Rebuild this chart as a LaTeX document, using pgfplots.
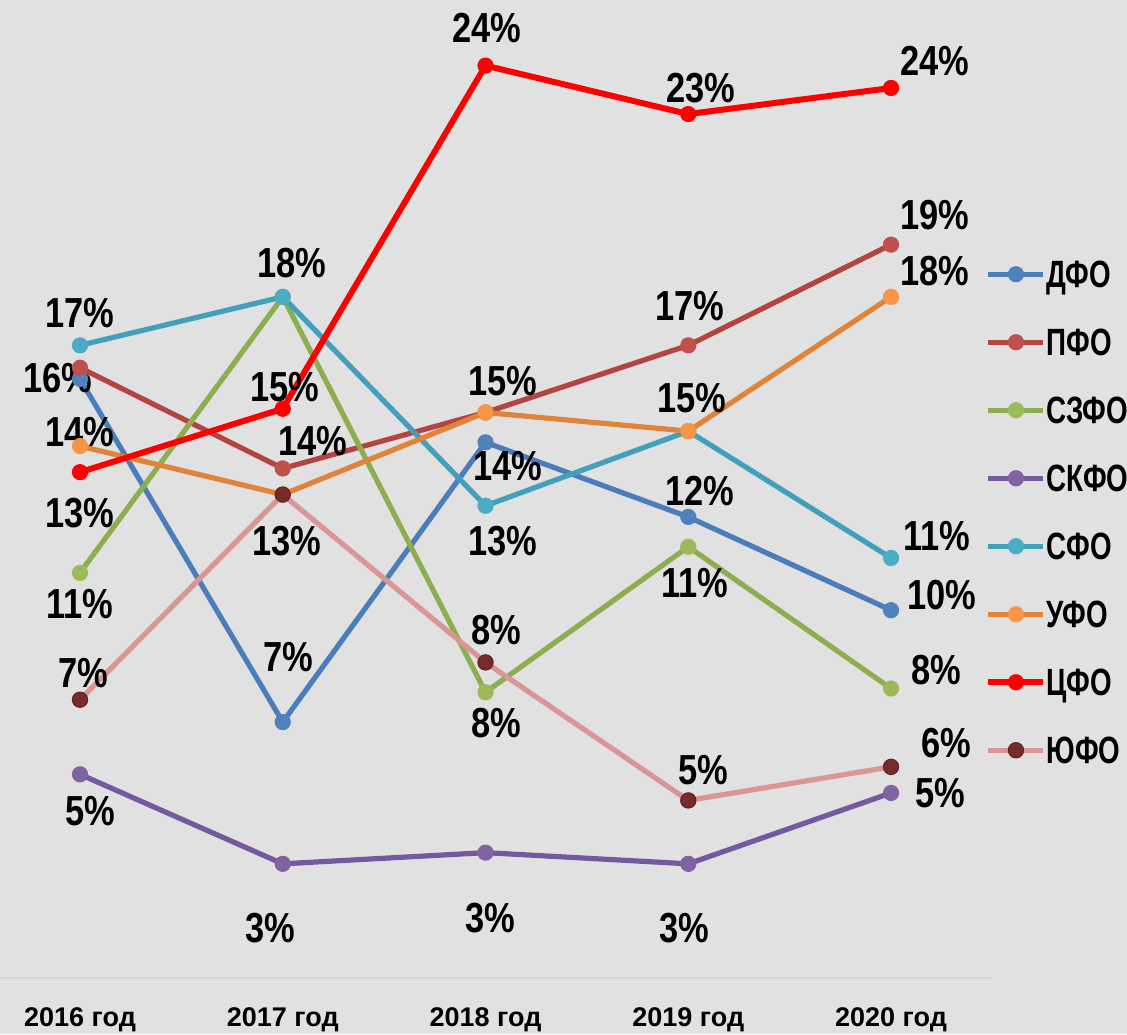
\documentclass[border=0pt]{standalone}
\usepackage{fontspec}
\setmainfont{Liberation Sans}[FakeStretch=0.82]
\newfontfamily\lgfont{Liberation Sans}[FakeStretch=0.73]
\newfontfamily\tickfont{Liberation Sans}
\usepackage{pgfplots}
\pgfplotsset{compat=1.18}

\definecolor{bg}{HTML}{E1E1E1}
\definecolor{axln}{HTML}{D4D4D4}
\definecolor{dfoL}{HTML}{4A7EBB}\definecolor{dfoM}{HTML}{4F81BD}
\definecolor{pfoL}{HTML}{B3443F}\definecolor{pfoM}{HTML}{C0504D}
\definecolor{szfoL}{HTML}{8DAE50}\definecolor{szfoM}{HTML}{9BBB59}
\definecolor{skfoL}{HTML}{7459A0}\definecolor{skfoM}{HTML}{8064A2}
\definecolor{sfoL}{HTML}{43A0BA}\definecolor{sfoM}{HTML}{4BACC6}
\definecolor{ufoL}{HTML}{E0843A}\definecolor{ufoM}{HTML}{F79646}
\definecolor{cfo}{HTML}{FF0000}
\definecolor{yufoL}{HTML}{D99694}\definecolor{yufoM}{HTML}{772C2A}\definecolor{yufoD}{HTML}{632523}

\begin{document}
\begin{tikzpicture}[
  lbl/.style={font=\bfseries\fontsize{21}{21}\selectfont, inner sep=0pt,
    text height=15pt, text depth=0pt, anchor=center},
]
\fill[bg, use as bounding box] (0pt,-28pt) rectangle (563.5pt,489pt);
\begin{axis}[
  at={(0pt,0pt)}, anchor=south west,
  scale only axis, width=496pt, height=489pt,
  xmin=-0.3946, xmax=4.498, ymin=-0.161, ymax=26.059,
  axis x line=bottom, axis y line=none,
  x axis line style={-, draw=axln, line width=1pt},
  xtick={0,1,2,3,4},
  xticklabels={2016 год, 2017 год, 2018 год, 2019 год, 2020 год},
  major tick length=0pt,
  xticklabel style={font=\tickfont\bfseries\fontsize{13.5}{13.5}\selectfont, anchor=base, yshift=-24pt},
  clip=false,
  every axis plot/.append style={line width=2.6pt, line join=round, mark=*, mark size=3.8pt},
  legend style={at={(axis description cs:0.993,0.734)}, anchor=north west,
    draw=none, fill=none, inner sep=0pt, row sep=20.3pt,
    font=\lgfont\bfseries\fontsize{19}{19}\selectfont,
    nodes={inner sep=0pt, text height=13.7pt, text depth=0pt},
    /tikz/every even column/.append style={column sep=3pt}},
  legend cell align=left,
  legend image code/.code={\draw[mark repeat=2,mark phase=2]
    plot coordinates {(0pt,0pt)(13.75pt,0pt)(27.5pt,0pt)};},
]
\addplot[color=dfoL, mark options={fill=dfoM, draw=dfoM, line width=0.5pt}]
  coordinates {(0,15.9) (1,6.7) (2,14.2) (3,12.2) (4,9.7)};
\addlegendentry{ДФО}
\addplot[color=pfoL, mark options={fill=pfoM, draw=pfoM, line width=0.5pt}]
  coordinates {(0,16.2) (1,13.5) (2,15.0) (3,16.8) (4,19.5)};
\addlegendentry{ПФО}
\addplot[color=szfoL, mark options={fill=szfoM, draw=szfoM, line width=0.5pt}]
  coordinates {(0,10.7) (1,18.1) (2,7.5) (3,11.4) (4,7.6)};
\addlegendentry{СЗФО}
\addplot[color=skfoL, mark options={fill=skfoM, draw=skfoM, line width=0.5pt}]
  coordinates {(0,5.3) (1,2.9) (2,3.2) (3,2.9) (4,4.8)};
\addlegendentry{СКФО}
\addplot[color=sfoL, mark options={fill=sfoM, draw=sfoM, line width=0.5pt}]
  coordinates {(0,16.8) (1,18.1) (2,12.5) (3,14.5) (4,11.1)};
\addlegendentry{СФО}
\addplot[color=ufoL, mark options={fill=ufoM, draw=ufoM, line width=0.5pt}]
  coordinates {(0,14.1) (1,12.8) (2,15.0) (3,14.5) (4,18.1)};
\addlegendentry{УФО}
\addplot[color=cfo, line width=3pt, mark options={fill=cfo, draw=cfo, line width=0.5pt}]
  coordinates {(0,13.4) (1,15.1) (2,24.3) (3,23.0) (4,23.7)};
\addlegendentry{ЦФО}
\addplot[color=yufoL, mark options={fill=yufoM, draw=yufoD, line width=0.6pt}]
  coordinates {(0,7.3) (1,12.8) (2,8.3) (3,4.6) (4,5.5)};
\addlegendentry{ЮФО}

% data labels
\node[lbl] at (axis cs:2.007,25.31) {24\%};
\node[lbl] at (axis cs:3.063,23.70) {23\%};
\node[lbl] at (axis cs:4.217,24.45) {24\%};
\node[lbl] at (axis cs:4.217,20.32) {19\%};
\node[lbl] at (axis cs:4.217,18.82) {18\%};
\node[lbl] at (axis cs:1.046,19.03) {18\%};
\node[lbl] at (axis cs:0,17.67) {17\%};
\node[lbl] at (axis cs:3.009,17.88) {17\%};
\node[lbl] at (axis cs:-0.109,15.95) {16\%};
\node[lbl] at (axis cs:1.011,15.71) {15\%};
\node[lbl] at (axis cs:1.149,14.26) {14\%};
\node[lbl] at (axis cs:0,14.48) {14\%};
\node[lbl] at (axis cs:0,12.33) {13\%};
\node[lbl] at (axis cs:1.021,11.58) {13\%};
\node[lbl] at (axis cs:0,9.89) {11\%};
\node[lbl] at (axis cs:0.015,8.04) {7\%};
\node[lbl] at (axis cs:1.026,8.47) {7\%};
\node[lbl] at (axis cs:0.049,4.34) {5\%};
\node[lbl] at (axis cs:0.937,1.18) {3\%};
\node[lbl] at (axis cs:2.022,1.45) {3\%};
\node[lbl] at (axis cs:2.979,1.18) {3\%};
\node[lbl] at (axis cs:2.086,15.87) {15\%};
\node[lbl] at (axis cs:2.111,13.57) {14\%};
\node[lbl] at (axis cs:2.086,11.58) {13\%};
\node[lbl] at (axis cs:2.052,9.17) {8\%};
\node[lbl] at (axis cs:2.052,6.70) {8\%};
\node[lbl] at (axis cs:3.019,15.39) {15\%};
\node[lbl] at (axis cs:3.058,12.92) {12\%};
\node[lbl] at (axis cs:3.033,10.43) {11\%};
\node[lbl] at (axis cs:3.073,5.42) {5\%};
\node[lbl] at (axis cs:4.227,11.69) {11\%};
\node[lbl] at (axis cs:4.252,10.11) {10\%};
\node[lbl] at (axis cs:4.222,8.10) {8\%};
\node[lbl] at (axis cs:4.271,6.14) {6\%};
\node[lbl] at (axis cs:4.242,4.80) {5\%};
\end{axis}
\end{tikzpicture}
\end{document}
